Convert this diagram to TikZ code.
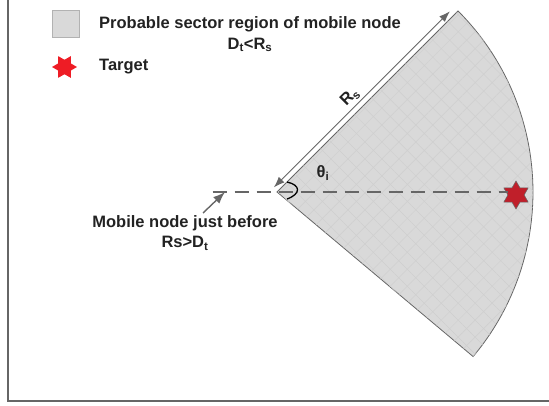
\documentclass[tikz,border=0pt]{standalone}
\usepackage{fontspec}
\setmainfont{Liberation Sans}
\usetikzlibrary{shapes.geometric,arrows.meta,patterns.meta,calc}
\definecolor{sectorgray}{HTML}{D9D9D9}
\definecolor{linegray}{HTML}{666666}
\definecolor{inkgray}{HTML}{222222}
\definecolor{legendred}{HTML}{EE1C25}
\definecolor{targetred}{HTML}{C01F2A}
\tikzset{
  labeltext/.style={text=inkgray,font=\fontsize{16.5}{20.5}\selectfont\bfseries,align=center,inner sep=0pt},
  sectorbox/.style={draw=linegray,line width=0.8pt,fill=sectorgray,
    postaction={pattern={Lines[angle=45,distance=12pt,line width=0.5pt]},pattern color=black!19},
    postaction={pattern={Lines[angle=-45,distance=12pt,line width=0.5pt]},pattern color=black!19}},
  starmark/.style={star,star points=6,star point ratio=1.73,inner sep=0pt,draw=linegray,line width=0.5pt},
  grayarrow/.style={linegray,line width=1.4pt,-{Latex[length=12pt,width=9pt]}},
}
\begin{document}
\begin{tikzpicture}[x=1pt,y=1pt]
  \useasboundingbox (0,0) rectangle (549,405);
  % frame
  \draw[linegray,line width=1.5pt] (8,405) -- (8,4) -- (549,4);
  % sector
  \coordinate (apex) at (277,213);
  \draw[sectorbox] (apex) -- ++(45:256) arc[start angle=45,end angle=-40,radius=256] -- cycle;
  % legend
  \draw
    (65.5,381.5) node[draw=black!30,fill=sectorgray,minimum size=27pt,inner sep=0pt] (sectorkey){}
    (250,370.5) node[labeltext] (sectortext){Probable sector region of mobile node\\D\textsubscript{t}<R\textsubscript{s}}
    (64.5,338) node[starmark,fill=legendred,draw=none,minimum size=25pt,shape border rotate=30] (targetkey){}
    (99,338) node[labeltext,anchor=west] (targettext){Target};
  % target and mobile node
  \draw
    (516,210) node[starmark,fill=targetred,minimum size=28pt] (target){}
    (212,213) node[inner sep=0pt] (mobile){}
    (185,172) node[labeltext] (mobiletext){Mobile node just before\\Rs>D\textsubscript{t}}
    (203,192) coordinate (mobiletail)
    (350,308) node[labeltext,rotate=45] (rslabel){R\textsubscript{s}}
    (323,232) node[labeltext] (thetalabel){θ\textsubscript{i}};
  \begin{scope}[linegray]
    \draw[dash pattern=on 14pt off 8pt,line width=1.6pt] (mobile) -- (mobile -| target.west);
    \draw[grayarrow] (mobiletail) -- ($(mobile)+(13,0)$);
    \draw[linegray,line width=1pt,{Latex[length=11pt,width=8pt]}-{Latex[length=11pt,width=8pt]}]
      ($(apex)+(135:5.5)+(45:1)$) -- ($(apex)+(135:5.5)+(45:250)$);
  \end{scope}
  % angle
  \draw[black,line width=1.3pt] ($(apex)+(10,10)$) .. controls +(14,-3) and +(14,5) .. ($(apex)+(10,-7)$);
\end{tikzpicture}
\end{document}
